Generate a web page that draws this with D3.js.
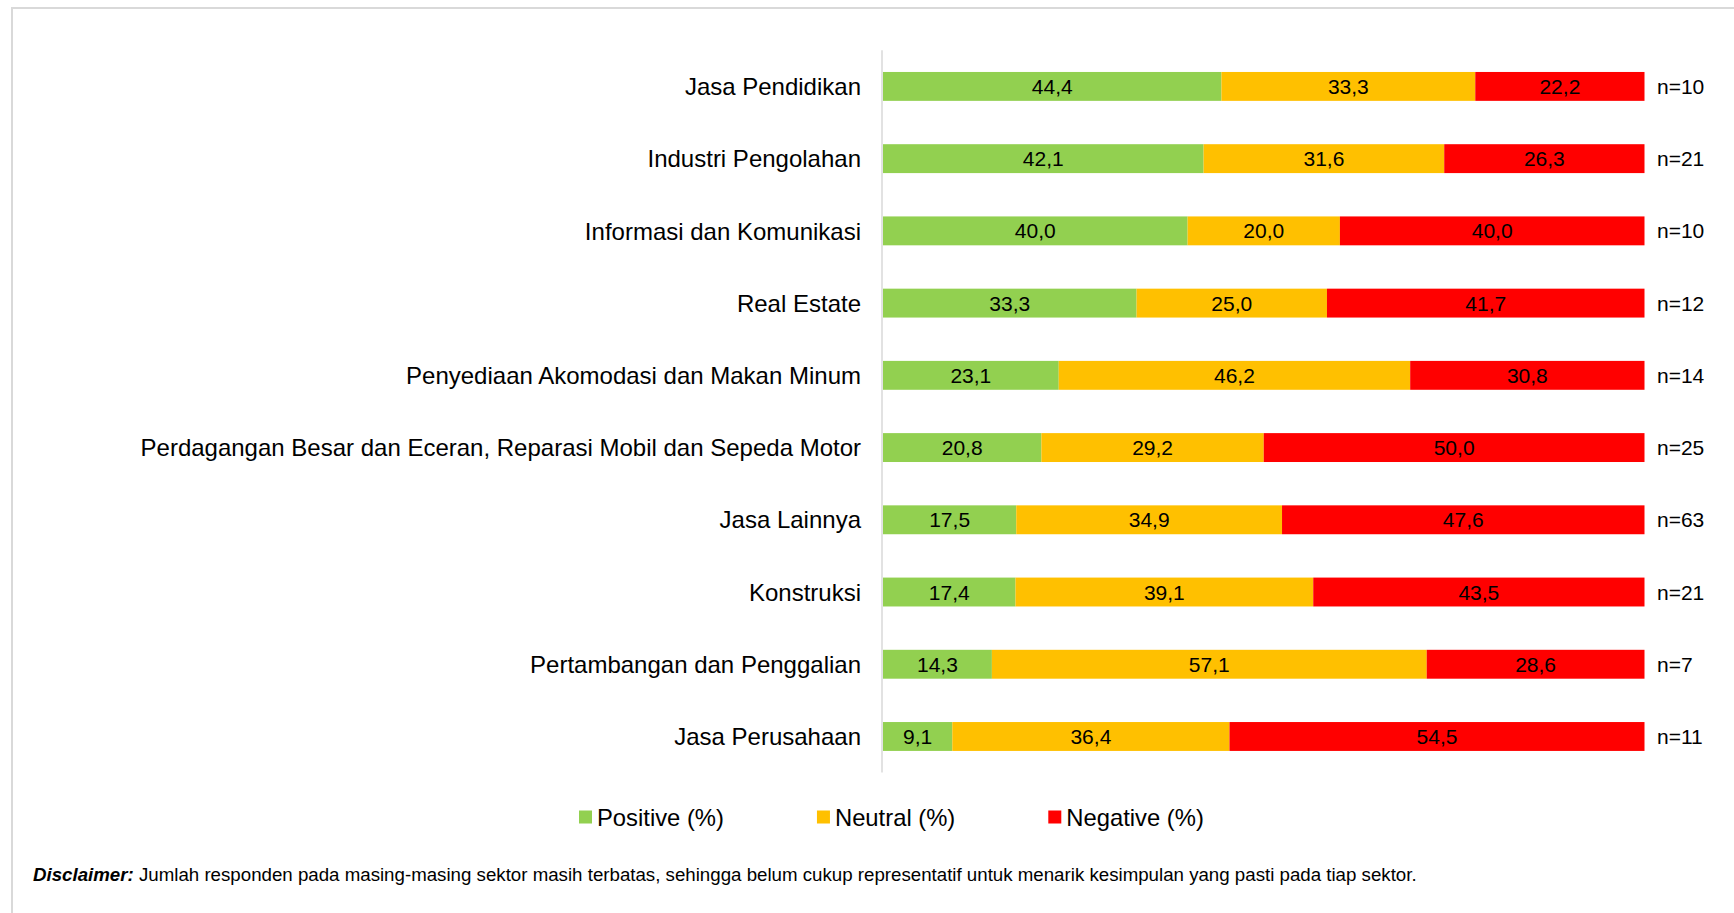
<!DOCTYPE html>
<html>
<head>
<meta charset="utf-8">
<script src="https://cdn.jsdelivr.net/npm/d3@7"></script>
<style>
  html, body { margin: 0; padding: 0; background: #fff; overflow: hidden; }
  text { font-family: "Liberation Sans", Arial, sans-serif; fill: #000; }
</style>
</head>
<body>
<script>
const width = 1734,
	height = 913

// sectors, top to bottom
const categories = [
	"Jasa Pendidikan",
	"Industri Pengolahan",
	"Informasi dan Komunikasi",
	"Real Estate",
	"Penyediaan Akomodasi dan Makan Minum",
	"Perdagangan Besar dan Eceran, Reparasi Mobil dan Sepeda Motor",
	"Jasa Lainnya",
	"Konstruksi",
	"Pertambangan dan Penggalian",
	"Jasa Perusahaan"
]
const positive = [44.4, 42.1, 40.0, 33.3, 23.1, 20.8, 17.5, 17.4, 14.3, 9.1]
const neutral = [33.3, 31.6, 20.0, 25.0, 46.2, 29.2, 34.9, 39.1, 57.1, 36.4]
const negative = [22.2, 26.3, 40.0, 41.7, 30.8, 50.0, 47.6, 43.5, 28.6, 54.5]
const respondents = [10, 21, 10, 12, 14, 25, 63, 21, 7, 11]

const seriesKeys = ["positive", "neutral", "negative"]
const seriesNames = ["Positive (%)", "Neutral (%)", "Negative (%)"]
const seriesColors = ["#92d050", "#ffc000", "#ff0000"]

const DISCLAIMER_LABEL = "Disclaimer:"
const DISCLAIMER_TEXT = " Jumlah responden pada masing-masing sektor masih terbatas, sehingga belum cukup representatif untuk menarik kesimpulan yang pasti pada tiap sektor."

const rows = categories.map((c, i) => ({
	category: c,
	positive: positive[i],
	neutral: neutral[i],
	negative: negative[i],
	n: respondents[i]
}))

const x = d3.scaleLinear().domain([0, 1]).range([883, 1644.5])

const y = d3.scaleBand()
	.domain(categories)
	.range([50.3, 772.6])
	.paddingInner(0.6)
	.paddingOuter(0.3)

const color = d3.scaleOrdinal(seriesKeys, seriesColors)

// 100% stacked, like the spreadsheet does it
const stacked = d3.stack()
	.keys(seriesKeys)
	.offset(d3.stackOffsetExpand)(rows)

const fmt = v => d3.format(".1f")(v).replace(".", ",")

const svg = d3.select("body")
	.append("svg")
	.attr("width", width)
	.attr("height", height)

// frame round the chart area (right and bottom edges fall outside the window)
svg.append("rect")
	.attr("x", 12)
	.attr("y", 8)
	.attr("width", width + 100)
	.attr("height", height + 100)
	.attr("fill", "none")
	.attr("stroke", "#d9d9d9")
	.attr("stroke-width", 2)

// vertical axis line
svg.append("line")
	.attr("x1", x(0) - 1)
	.attr("x2", x(0) - 1)
	.attr("y1", y.range()[0])
	.attr("y2", y.range()[1])
	.attr("stroke", "#d9d9d9")
	.attr("stroke-width", 1.5)

// category labels
svg.append("g")
	.selectAll("text")
	.data(rows)
	.join("text")
	.attr("x", 861)
	.attr("y", d => y(d.category) + y.bandwidth() / 2)
	.attr("dy", "0.36em")
	.attr("text-anchor", "end")
	.style("font-size", "24px")
	.text(d => d.category)

// bars
const layer = svg.append("g")
	.selectAll("g")
	.data(stacked)
	.join("g")
	.attr("fill", d => color(d.key))

layer.selectAll("rect")
	.data(d => d)
	.join("rect")
	.attr("x", d => x(d[0]))
	.attr("y", d => y(d.data.category))
	.attr("width", d => x(d[1]) - x(d[0]))
	.attr("height", y.bandwidth())

// value labels
const labels = svg.append("g")
stacked.forEach(s => {
	labels.selectAll(null)
		.data(s)
		.enter()
		.append("text")
		.attr("x", d => (x(d[0]) + x(d[1])) / 2)
		.attr("y", d => y(d.data.category) + y.bandwidth() / 2)
		.attr("dy", "0.36em")
		.attr("text-anchor", "middle")
		.style("font-size", "21px")
		.text(d => fmt(d.data[s.key]))
})

// n= labels
svg.append("g")
	.selectAll("text")
	.data(rows)
	.join("text")
	.attr("x", 1657)
	.attr("y", d => y(d.category) + y.bandwidth() / 2)
	.attr("dy", "0.36em")
	.style("font-size", "21px")
	.text(d => `n=${d.n}`)

// legend
const legend = svg.append("g").attr("transform", "translate(579, 817)")
let lx = 0
seriesKeys.forEach((k, i) => {
	const item = legend.append("g").attr("transform", `translate(${lx}, 0)`)
	item.append("rect")
		.attr("x", 0)
		.attr("y", -6.5)
		.attr("width", 13)
		.attr("height", 13)
		.attr("fill", seriesColors[i])
	const t = item.append("text")
		.attr("x", 18)
		.attr("dy", "0.36em")
		.style("font-size", "23.8px")
		.text(seriesNames[i])
	lx += 18 + t.node().getComputedTextLength() + 93
})

// disclaimer
const disc = svg.append("text")
	.attr("x", 33)
	.attr("y", 881)
	.style("font-size", "18.7px")
disc.append("tspan")
	.style("font-weight", "bold")
	.style("font-style", "italic")
	.text(DISCLAIMER_LABEL)
disc.append("tspan")
	.text(DISCLAIMER_TEXT)
</script>
</body>
</html>
